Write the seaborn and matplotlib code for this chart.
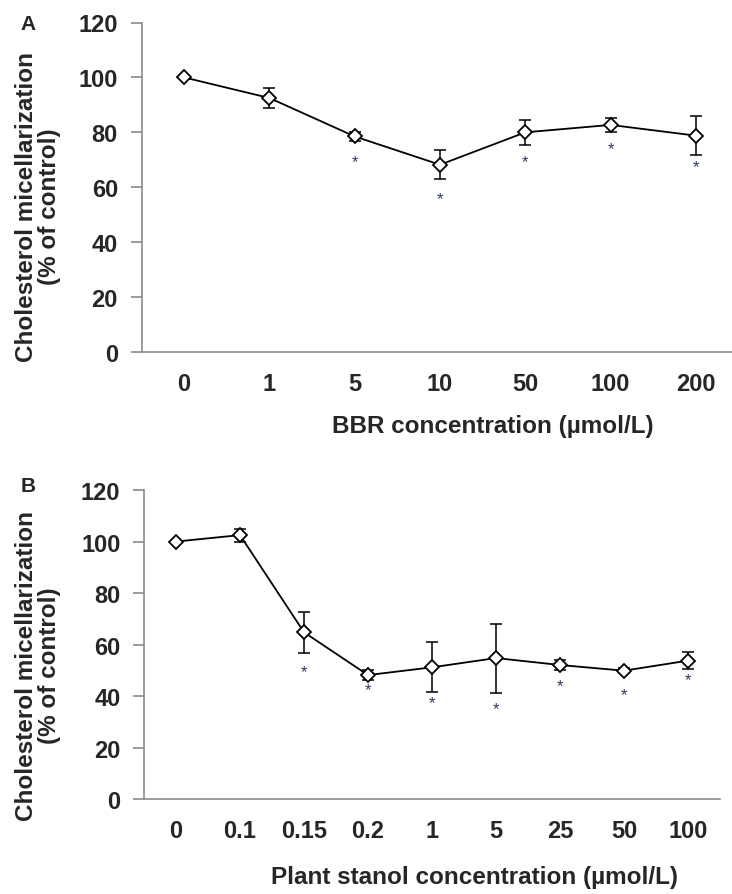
import numpy as np
import pandas as pd
import matplotlib
matplotlib.use("Agg")
import matplotlib.pyplot as plt
import seaborn as sns

# ---------------- data ----------------
a_labels = ["0", "1", "5", "10", "50", "100", "200"]
a_values = [100, 92.5, 78.5, 68.2, 80.0, 82.7, 78.8]
a_errors = [0.0, 3.5, 1.5, 5.3, 4.6, 2.5, 7.0]
a_star_y = [None, None, 69.5, 56.0, 69.5, 74.0, 67.6]

b_labels = ["0", "0.1", "0.15", "0.2", "1", "5", "25", "50", "100"]
b_values = [100, 102.5, 64.8, 48.2, 51.2, 54.8, 52.1, 49.9, 53.8]
b_errors = [0.0, 2.5, 7.9, 2.0, 9.7, 13.4, 1.8, 1.0, 3.3]
b_star_y = [None, None, 49.6, 42.5, 37.6, 35.0, 44.0, 40.8, 46.3]

y_ticks = [0, 20, 40, 60, 80, 100, 120]
ylabel = "Cholesterol micellarization\n(% of control)"
a_xlabel = "BBR concentration (µmol/L)"
b_xlabel = "Plant stanol concentration (µmol/L)"

# ---------------- style ----------------
sns.set_style("white")
plt.rcParams["font.family"] = ["Liberation Sans", "DejaVu Sans"]
plt.rcParams["font.weight"] = "bold"

W, H = 732, 895
fig = plt.figure(figsize=(W / 100, H / 100), dpi=100)


def px_rect(left, top, right, bottom):
    return [left / W, 1 - bottom / H, (right - left) / W, (bottom - top) / H]


def panel(rect, labels, values, errors, stars, xlabel, xlab_pos, ylab_pos, letter_pos, letter):
    ax = fig.add_axes(rect)
    df = pd.DataFrame({"pos": np.arange(len(labels)), "val": values, "err": errors})
    ax.errorbar(df["pos"], df["val"], yerr=df["err"], fmt="none", ecolor="black",
                elinewidth=1.1, capsize=4.5, capthick=1.1, zorder=2)
    sns.lineplot(data=df, x="pos", y="val", ax=ax, color="black", linewidth=1.3,
                 marker="D", markersize=7.5, markerfacecolor="white",
                 markeredgecolor="black", markeredgewidth=1.3, zorder=3)
    for p, s in zip(df["pos"], stars):
        if s is not None:
            ax.text(p, s, "*", ha="center", va="center", fontsize=12,
                    color="#2b3a5c", fontweight="normal")
    ax.set_xlim(-0.5, len(labels) - 0.5)
    ax.set_ylim(0, 120)
    ax.set_yticks(y_ticks)
    ax.set_xticks(df["pos"])
    ax.set_xticklabels(labels)
    ax.set_xlabel("")
    ax.set_ylabel("")
    for side in ["top", "right"]:
        ax.spines[side].set_visible(False)
    for side in ["left", "bottom"]:
        ax.spines[side].set_color("#8a8a8a")
        ax.spines[side].set_linewidth(1.2)
    ax.tick_params(axis="y", which="both", left=True, length=8, width=1.2,
                   color="#8a8a8a", labelsize=17, pad=9, direction="out")
    ax.tick_params(axis="x", which="both", bottom=False, labelsize=17, pad=11)
    for t in ax.get_xticklabels() + ax.get_yticklabels():
        t.set_fontweight("bold")
    fig.text(xlab_pos[0] / W, 1 - xlab_pos[1] / H, xlabel, ha="center", va="center",
             fontsize=17.5, fontweight="bold")
    fig.text(ylab_pos[0] / W, 1 - ylab_pos[1] / H, ylabel, ha="center", va="center",
             rotation=90, fontsize=17.5, fontweight="bold", multialignment="center",
             linespacing=1.0)
    fig.text(letter_pos[0] / W, 1 - letter_pos[1] / H, letter, ha="center", va="center",
             fontsize=15, fontweight="bold")
    return ax


panel(px_rect(141.5, 23.5, 738.5, 353), a_labels, a_values, a_errors, a_star_y,
      a_xlabel, (493, 427), (38, 207), (28, 24), "A")
panel(px_rect(144, 491, 720, 800.3), b_labels, b_values, b_errors, b_star_y,
      b_xlabel, (474.5, 878), (38, 666), (28, 487), "B")

fig.savefig("out.png", dpi=100)
